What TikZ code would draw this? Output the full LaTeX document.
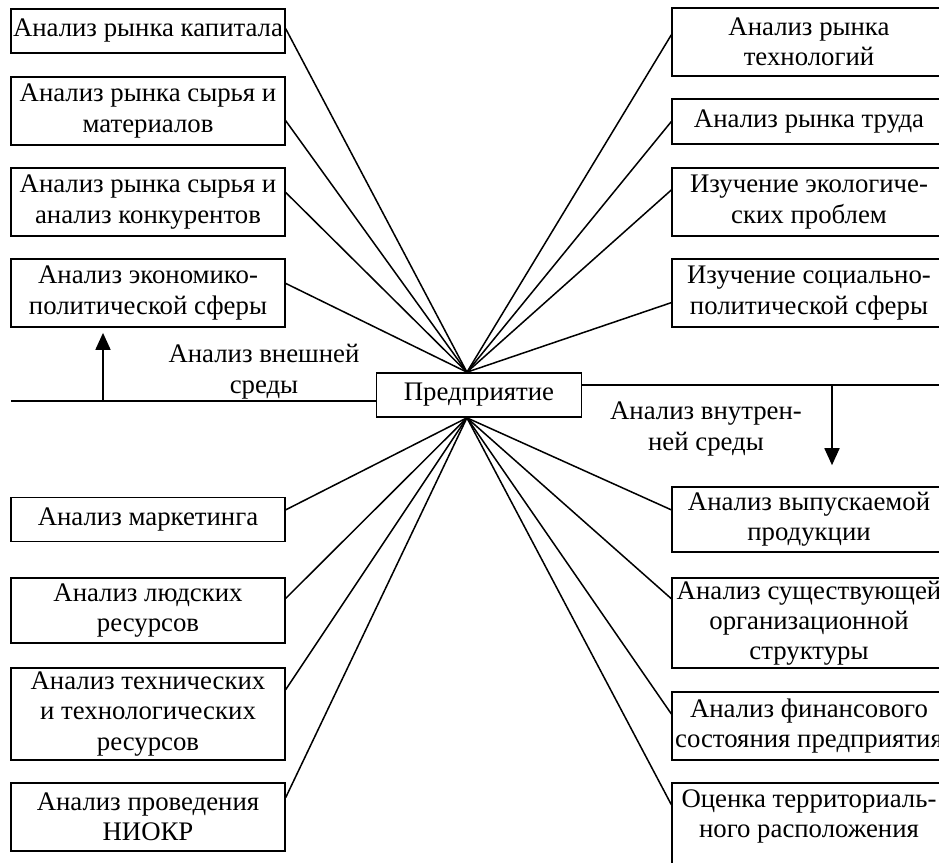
\documentclass[tikz,border=0pt]{standalone}
\usepackage{fontspec}
\setmainfont{Liberation Serif}
\usetikzlibrary{arrows.meta}

\begin{document}
\begin{tikzpicture}[x=0.53pt, y=-0.53pt,
	box/.style={draw, line width=0.9pt, align=center, minimum width=145pt, inner xsep=0pt, inner ysep=0pt, font=\fontsize{14.2}{16}\selectfont},
	lbl/.style={align=center, font=\fontsize{14.2}{16.4}\selectfont},
	link/.style={line width=0.8pt},
	>={Triangle[length=9pt, width=8pt]}]

	\clip (0,0) rectangle (939,863);

	\node[box, minimum width=108.7pt, minimum height=23.3pt] (firm) at (479,395) {Предприятие};

	% left column
	\node[box, minimum height=23.3pt] (capital) at (148,31) {Анализ рынка капитала};
	\node[box, minimum height=36pt] (raw) at (148,111) {Анализ рынка сырья и\\материалов};
	\node[box, minimum height=36pt] (rivals) at (148,202) {Анализ рынка сырья и\\анализ конкурентов};
	\node[box, minimum height=36pt] (econ) at (148,293) {Анализ экономико-\\политической сферы};
	\node[box, minimum height=23.3pt] (mark) at (148,519.5) {Анализ маркетинга};
	\node[box, minimum height=34.5pt] (staff) at (148,610.5) {Анализ людских\\ресурсов};
	\node[box, minimum height=48.8pt] (tech) at (148,714) {Анализ технических\\и технологических\\ресурсов};
	\node[box, minimum height=36pt] (rnd) at (148,817) {Анализ проведения\\НИОКР};

	% right column
	\node[box, minimum height=36pt] (techmkt) at (809,42) {Анализ рынка\\технологий};
	\node[box, minimum height=23.8pt] (labour) at (809,121.5) {Анализ рынка труда};
	\node[box, minimum height=36pt] (ecol) at (809,202) {Изучение экологиче-\\ских проблем};
	\node[box, minimum height=36pt] (social) at (809,293) {Изучение социально-\\политической сферы};
	\node[box, minimum height=34.5pt] (product) at (809,519.5) {Анализ выпускаемой\\продукции};
	\node[box, minimum height=47.7pt] (struct) at (809,623) {Анализ существующей\\организационной\\структуры};
	\node[box, minimum height=36pt] (finance) at (809,726) {Анализ финансового\\состояния предприятия};
	\node[box, minimum height=48.8pt] (place) at (809,829) {Оценка территориаль-\\ного расположения\\\mbox{}};

	\node[lbl] (extlbl) at (264,372) {Анализ внешней\\среды};
	\node[lbl] (intlbl) at (706,429) {Анализ внутрен-\\ней среды};

	\foreach \n/\a in {capital/1.3, raw/-4.6, rivals/4.2, econ/4.6, techmkt/177.9, labour/180.8, ecol/175.8, social/184.2}
		\draw[link] ([xshift=-6.4pt]firm.north) -- (\n.\a);
	\foreach \n/\a in {mark/4.7, staff/5, tech/10.7, rnd/8.3, product/176, struct/170.5, finance/175.4, place/170}
		\draw[link] ([xshift=-6.4pt]firm.south) -- (\n.\a);

	% external and internal analysis
	\coordinate (ext) at (11,401);
	\coordinate (up) at (103,401);
	\draw[link] (ext) -- (ext -| firm.west);
	\draw[link,->,shorten >=2.7pt] (up) -- (up |- econ.south);

	\coordinate (int) at (945,385);
	\coordinate (down) at (832,385);
	\draw[link] (int -| firm.east) -- (int);
	\draw[link,->,shorten >=11.1pt] (down) -- (down |- product.north);

\end{tikzpicture}
\end{document}
